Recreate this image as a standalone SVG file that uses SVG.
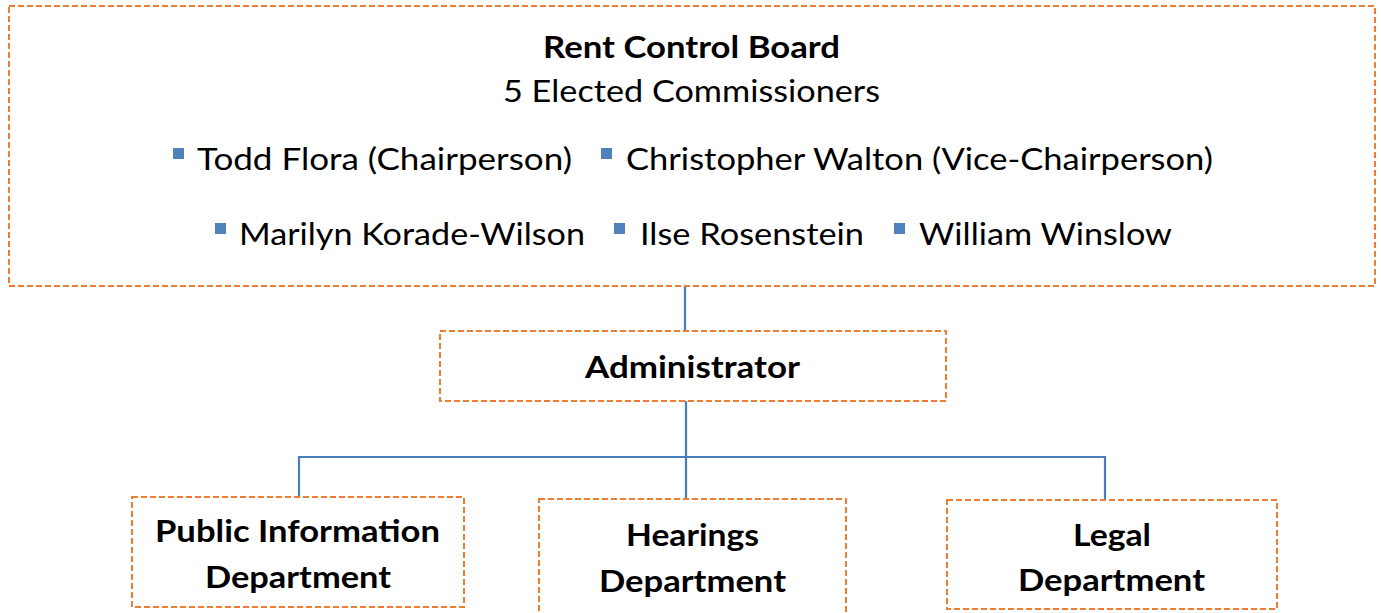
<svg xmlns="http://www.w3.org/2000/svg" width="1381" height="613" viewBox="0 0 1381 613">
  <style>
    .box { fill: #ffffff; stroke: #ED7D31; stroke-width: 2; stroke-dasharray: 6 3; }
    .link { fill: none; stroke: #4A7EBB; stroke-width: 2.2; }
    .t { font-family: Lato, "Open Sans", "Liberation Sans", sans-serif; fill: #000000; }
    .reg { font-size: 31px; font-weight: 400; }
    .bold { font-size: 31px; font-weight: 700; }
    .dept { font-size: 30px; font-weight: 700; }
    .bullet { fill: #4F81BD; }
  </style>
  <rect width="1381" height="613" fill="#ffffff"/>

  <!-- connectors -->
  <g id="connectors">
    <line class="link" x1="685" y1="286" x2="685" y2="331"/>
    <line class="link" x1="686" y1="401" x2="686" y2="499"/>
    <polyline class="link" points="299,497 299,457 1105,457 1105,500"/>
  </g>

  <!-- board -->
  <g id="board">
    <rect class="box" x="9" y="6" width="1366" height="280"/>
    <text class="t bold" x="543" y="58" textLength="297" lengthAdjust="spacingAndGlyphs">Rent Control Board</text>
    <text class="t reg" x="503" y="102" textLength="377" lengthAdjust="spacingAndGlyphs">5 Elected Commissioners</text>
    <rect class="bullet" x="173" y="148" width="11" height="11"/>
    <text class="t reg" x="197" y="170" textLength="375" lengthAdjust="spacingAndGlyphs">Todd Flora (Chairperson)</text>
    <rect class="bullet" x="601" y="148" width="11" height="11"/>
    <text class="t reg" x="626" y="170" textLength="587" lengthAdjust="spacingAndGlyphs">Christopher Walton (Vice-Chairperson)</text>
    <rect class="bullet" x="215" y="223" width="11" height="11"/>
    <text class="t reg" x="239" y="245" textLength="346" lengthAdjust="spacingAndGlyphs">Marilyn Korade-Wilson</text>
    <rect class="bullet" x="614" y="223" width="11" height="11"/>
    <text class="t reg" x="640" y="245" textLength="224" lengthAdjust="spacingAndGlyphs">Ilse Rosenstein</text>
    <rect class="bullet" x="894" y="223" width="11" height="11"/>
    <text class="t reg" x="919" y="245" textLength="253" lengthAdjust="spacingAndGlyphs">William Winslow</text>
  </g>

  <!-- administrator -->
  <g id="administrator">
    <rect class="box" x="440" y="331" width="506" height="70"/>
    <text class="t bold" x="585" y="378" textLength="215" lengthAdjust="spacingAndGlyphs">Administrator</text>
  </g>

  <!-- departments -->
  <g id="public-information">
    <rect class="box" x="132" y="497" width="332" height="110"/>
    <text class="t dept" x="155" y="542" textLength="285" lengthAdjust="spacingAndGlyphs">Public Information</text>
    <text class="t dept" x="205" y="588" textLength="186" lengthAdjust="spacingAndGlyphs">Department</text>
  </g>
  <g id="hearings">
    <rect class="box" x="539" y="499" width="307" height="118"/>
    <text class="t dept" x="626" y="546" textLength="133" lengthAdjust="spacingAndGlyphs">Hearings</text>
    <text class="t dept" x="599" y="592" textLength="187" lengthAdjust="spacingAndGlyphs">Department</text>
  </g>
  <g id="legal">
    <rect class="box" x="947" y="500" width="330" height="109"/>
    <text class="t dept" x="1073" y="546" textLength="78" lengthAdjust="spacingAndGlyphs">Legal</text>
    <text class="t dept" x="1018" y="591" textLength="187" lengthAdjust="spacingAndGlyphs">Department</text>
  </g>
</svg>
